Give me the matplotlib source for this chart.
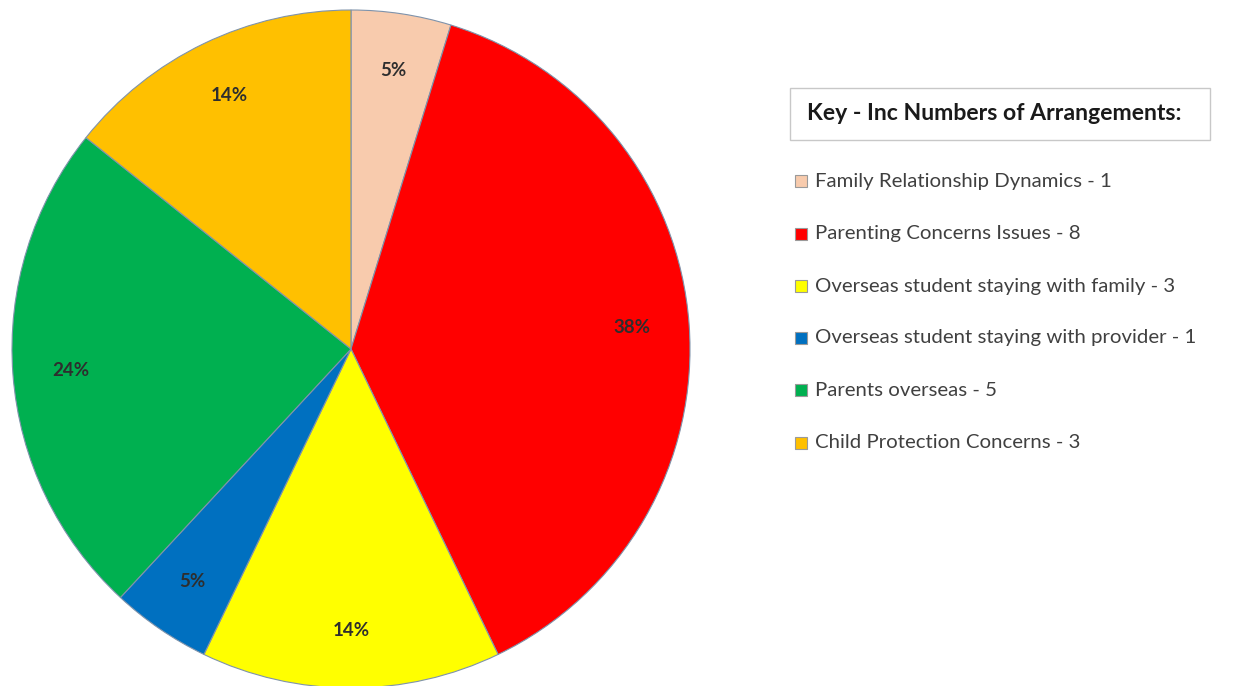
import matplotlib
matplotlib.use("Agg")
import matplotlib.pyplot as plt
from matplotlib.patches import Rectangle

categories = ["Family Relationship Dynamics", "Parenting Concerns Issues",
              "Overseas student staying with family", "Overseas student staying with provider",
              "Parents overseas", "Child Protection Concerns"]
values = [1, 8, 3, 1, 5, 3]
colors = ["#F8CBAD", "#FF0000", "#FFFF00", "#0070C0", "#00B050", "#FFC000"]
legend_title = "Key - Inc Numbers of Arrangements:"

W, H = 1259, 686
fig = plt.figure(figsize=(W / 100, H / 100), dpi=100)
fig.patch.set_facecolor("white")

cx, cy, r = 351, 349, 339
ax = fig.add_axes([(cx - r) / W, (H - cy - r) / H, 2 * r / W, 2 * r / H])
wedges, texts, autotexts = ax.pie(
    values, colors=colors, startangle=90, counterclock=False,
    autopct="%.0f%%", pctdistance=0.83, radius=1.0,
    wedgeprops=dict(edgecolor="#7f93ab", linewidth=0.8),
    textprops=dict(fontsize=13.5, fontweight="bold", color="#2e2e2e", family="Lato"))
ax.set_xlim(-1, 1)
ax.set_ylim(-1, 1)
ax.set_aspect("equal")
ax.axis("off")

renderer = fig.canvas.get_renderer()

def fit_size(s, target_w, **kw):
    t = fig.text(0, 0, s, fontsize=14, **kw)
    w = t.get_window_extent(renderer).width
    t.remove()
    return 14 * target_w / w

# Legend title box
fig.add_artist(Rectangle((790 / W, 1 - 140 / H), 420 / W, 52 / H, transform=fig.transFigure,
                         facecolor="white", edgecolor="#c8c8c8", linewidth=1.0))
ts = fit_size(legend_title, 376, fontweight="bold", family="Lato")
fig.text(807 / W, 1 - 113 / H, legend_title, fontsize=ts, fontweight="bold", family="Lato",
         color="#1a1a1a", va="center", ha="left")

entry_size = fit_size(f"{categories[0]} - {values[0]}", 298, family="Lato")
rows_y = [181, 234, 286, 338, 390, 443]
for i, (cat, v, c) in enumerate(zip(categories, values, colors)):
    y = rows_y[i]
    fig.add_artist(Rectangle((795 / W, 1 - (y + 6) / H), 12 / W, 12 / H, transform=fig.transFigure,
                             facecolor=c, edgecolor="#9a9a9a", linewidth=0.8))
    fig.text(815 / W, 1 - y / H, f"{cat} - {v}", fontsize=entry_size, family="Lato",
             color="#404040", va="center", ha="left")

fig.savefig("out.png", dpi=100, facecolor="white")
